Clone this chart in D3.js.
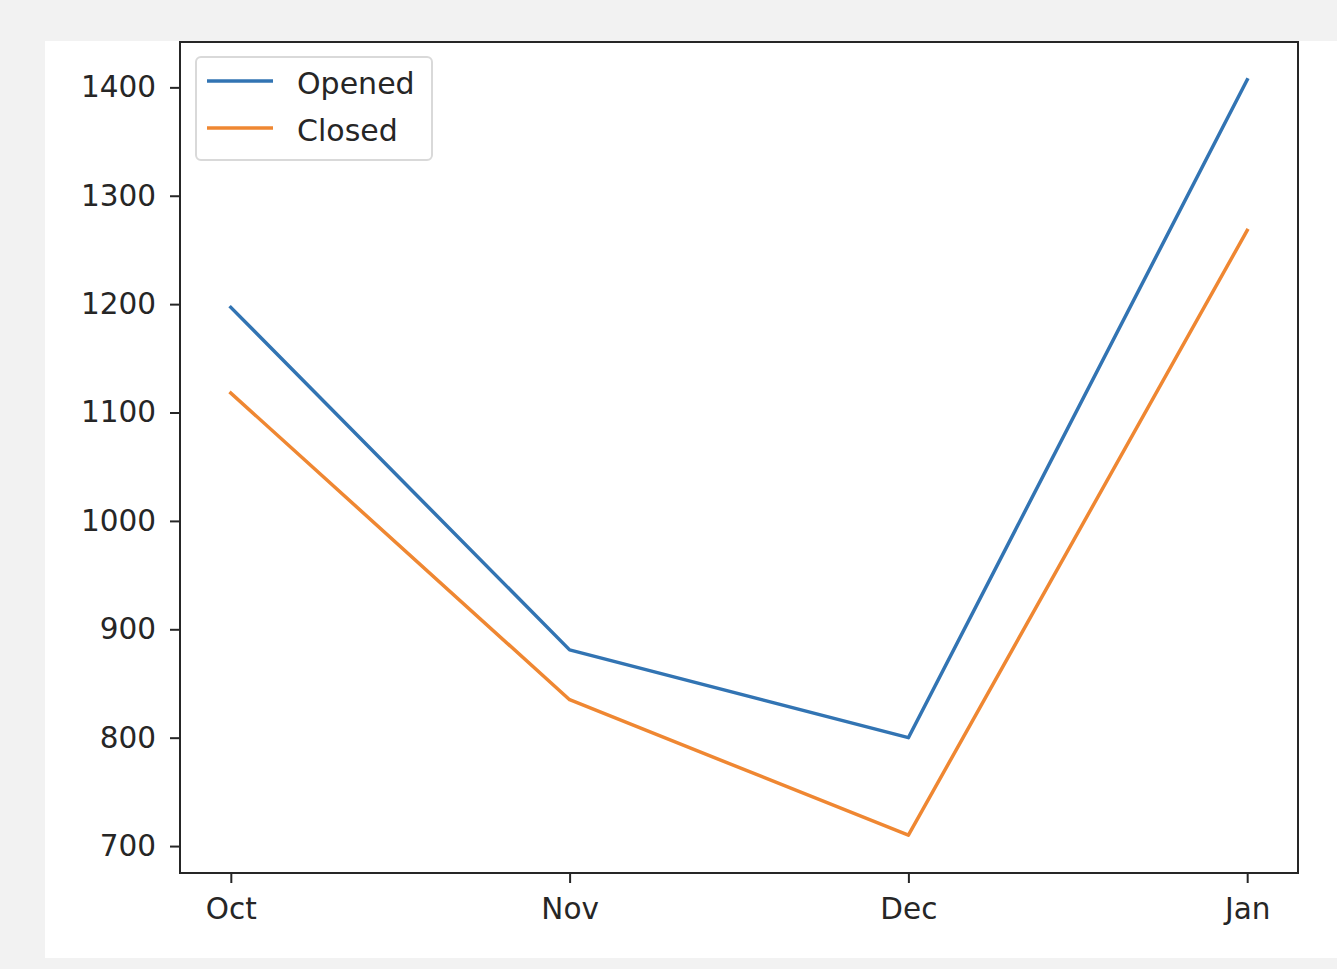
<!DOCTYPE html>
<html>
<head>
<meta charset="utf-8">
<script src="https://cdn.jsdelivr.net/npm/d3@7"></script>
<style>
  body { margin: 0; background: #f2f2f2; }
  svg { display: block; }
  text { font-family: "DejaVu Sans", sans-serif; fill: #262626; }
</style>
</head>
<body>
<svg id="chart" width="1337" height="969"></svg>
<script>
const months = ['Oct', 'Nov', 'Dec', 'Jan'];
const opened = [1197, 881, 800, 1407];
const closed = [1118, 835, 710, 1268];
const seriesNames = ['Opened', 'Closed'];
const seriesColors = ['#3274b3', '#ef8732'];
const yTicks = [700, 800, 900, 1000, 1100, 1200, 1300, 1400];

const svg = d3.select('#chart');
// figure area (white) and axes box
svg.append('rect')
  .attr('x', 45).attr('y', 41).attr('width', 1292).attr('height', 917)
  .attr('fill', '#fff');

const box = { left: 180, top: 42, right: 1298, bottom: 873 };

const all = opened.concat(closed);
const lo = d3.min(all), hi = d3.max(all);
const pad = (hi - lo) * 0.05;

const x = d3.scaleLinear()
  .domain([-0.15, months.length - 1 + 0.15])
  .range([box.left, box.right]);
const y = d3.scaleLinear()
  .domain([lo - pad, hi + pad])
  .range([box.bottom, box.top]);

const plot = svg.append('g');

// series lines
const line = d3.line()
  .x((d, i) => x(i))
  .y(d => y(d));

[opened, closed].forEach((serie, k) => {
  plot.append('path')
    .datum(serie)
    .attr('d', line)
    .attr('fill', 'none')
    .attr('stroke', seriesColors[k])
    .attr('stroke-width', 3.5)
    .attr('stroke-linejoin', 'round')
    .attr('stroke-linecap', 'square');
});

// axes
const yAxis = d3.axisLeft(y).tickValues(yTicks).tickFormat(d3.format('d'))
  .tickSize(10).tickPadding(14);
const xAxis = d3.axisBottom(x).tickValues(d3.range(months.length))
  .tickFormat(i => months[i]).tickSize(10).tickPadding(15);

const gy = svg.append('g').attr('transform', `translate(${box.left},0)`).call(yAxis);
const gx = svg.append('g').attr('transform', `translate(0,${box.bottom})`).call(xAxis);
[gx, gy].forEach((g) => {
  g.select('.domain').remove();
  g.selectAll('.tick line').attr('stroke', '#262626').attr('stroke-width', 2);
  g.selectAll('.tick text').attr('font-size', 29.5).attr('fill', '#262626')
    .style('font-family', '"DejaVu Sans", sans-serif');
});

// frame
svg.append('rect')
  .attr('x', box.left).attr('y', box.top)
  .attr('width', box.right - box.left).attr('height', box.bottom - box.top)
  .attr('fill', 'none').attr('stroke', '#262626').attr('stroke-width', 2);

// legend
const legend = svg.append('g').attr('transform', 'translate(196,57)');
legend.append('rect')
  .attr('width', 236).attr('height', 103).attr('rx', 5)
  .attr('fill', 'rgba(255,255,255,0.8)').attr('stroke', '#d9d9d9').attr('stroke-width', 2);
seriesNames.forEach((name, i) => {
  const row = legend.append('g').attr('transform', `translate(0,${24 + i * 47})`);
  row.append('line')
    .attr('x1', 11).attr('x2', 77).attr('y1', 0).attr('y2', 0)
    .attr('stroke', seriesColors[i]).attr('stroke-width', 3.5);
  row.append('text')
    .attr('x', 101).attr('y', 2).attr('dy', '0.35em')
    .attr('font-size', 30).text(name);
});
</script>
</body>
</html>
